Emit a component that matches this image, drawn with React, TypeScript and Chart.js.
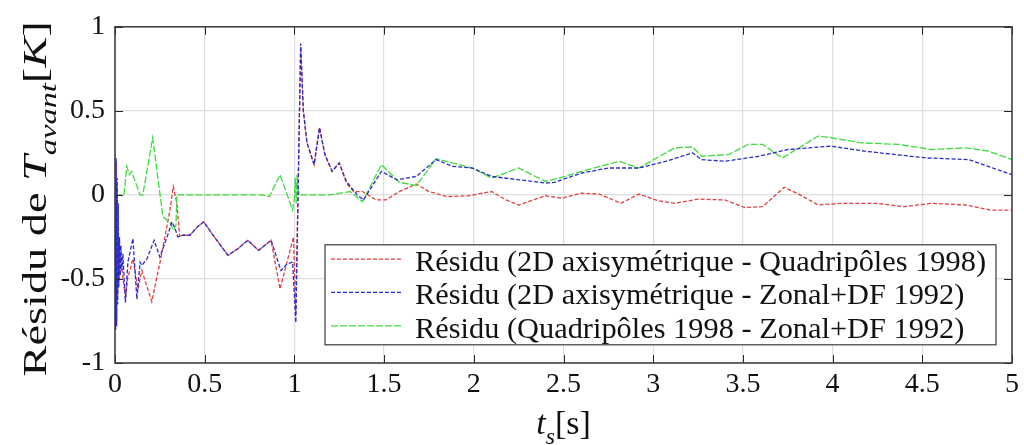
import React, { useEffect, useRef } from "react";
import { Chart, registerables } from "chart.js";

Chart.register(...registerables);

// ---- axis ranges / ticks ----
const X_MIN = 0;
const X_MAX = 5;
const X_STEP = 0.5;
const Y_MIN = -1;
const Y_MAX = 1;
const Y_STEP = 0.5;

// ---- series: Résidu (2D axisymétrique - Quadripôles 1998) ----
const redX = [
  0.0, 0.003, 0.006, 0.009, 0.012, 0.015, 0.02, 0.025, 0.03, 0.04, 0.05, 0.06, 0.07, 0.1, 0.128,
  0.15, 0.205, 0.255, 0.305, 0.325, 0.345, 0.36, 0.38, 0.417, 0.46, 0.495, 0.54, 0.63, 0.685,
  0.74, 0.8, 0.87, 0.92, 0.995, 1.008, 1.035, 1.05, 1.07, 1.11, 1.14, 1.17, 1.21, 1.25, 1.29,
  1.33, 1.38, 1.455, 1.51, 1.585, 1.68, 1.75, 1.85, 1.97, 2.1, 2.18, 2.25, 2.4, 2.49, 2.6, 2.7,
  2.82, 2.92, 3.03, 3.12, 3.25, 3.4, 3.51, 3.61, 3.73, 3.81, 3.92, 4.05, 4.24, 4.4, 4.55, 4.74,
  4.88, 5.0,
];
const redY = [
  -0.05, -0.8, 0.2, -0.75, 0.05, -0.6, -0.3, -0.5, -0.35, -0.45, -0.55, -0.6, -0.5, -0.38, -0.56,
  -0.45, -0.635, -0.38, -0.1, 0.05, -0.05, -0.245, -0.24, -0.24, -0.19, -0.16, -0.23, -0.36, -0.32,
  -0.27, -0.33, -0.27, -0.56, -0.25, -0.7, 0.88, 0.5, 0.31, 0.18, 0.4, 0.24, 0.14, 0.19, 0.07,
  0.02, 0.02, -0.03, -0.03, 0.02, 0.065, 0.02, -0.01, -0.005, 0.02, -0.03, -0.06, -0.005, -0.02, 0.01, 0.005,
  -0.05, 0.005, -0.035, -0.05, -0.025, -0.03, -0.075, -0.07, 0.045, 0.005, -0.06, -0.05, -0.05, -0.07, -0.05, -0.06,
  -0.09, -0.09,
];

// ---- series: Résidu (2D axisymétrique - Zonal+DF 1992) ----
const blueX = [
  0.0, 0.003, 0.006, 0.009, 0.012, 0.015, 0.018, 0.021, 0.025, 0.029, 0.033, 0.038, 0.044, 0.05,
  0.058, 0.072, 0.1, 0.122, 0.14, 0.15, 0.178, 0.218, 0.25, 0.28, 0.3, 0.317, 0.335, 0.35, 0.38,
  0.417, 0.46, 0.495, 0.54, 0.63, 0.685, 0.74, 0.8, 0.87, 0.925, 0.96, 0.99, 1.008, 1.035, 1.05,
  1.07, 1.11, 1.14, 1.17, 1.21, 1.25, 1.29, 1.35, 1.385, 1.485, 1.57, 1.68, 1.79, 1.88, 1.99,
  2.1, 2.25, 2.4, 2.45, 2.6, 2.75, 2.92, 3.07, 3.22, 3.27, 3.4, 3.59, 3.75, 3.99, 4.18, 4.52,
  4.76, 5.0,
];
const blueY = [
  -0.05, -0.8, 0.22, -0.78, 0.1, -0.65, -0.05, -0.55, -0.25, -0.48, -0.3, -0.45, -0.35, -0.48,
  -0.64, -0.4, -0.26, -0.62, -0.4, -0.42, -0.38, -0.27, -0.37, -0.28, -0.22, -0.16, -0.2, -0.25, -0.24,
  -0.24, -0.19, -0.16, -0.23, -0.36, -0.32, -0.27, -0.33, -0.27, -0.45, -0.41, -0.4, -0.76, 0.9, 0.5,
  0.31, 0.18, 0.4, 0.24, 0.14, 0.19, 0.08, 0.0, -0.03, 0.14, 0.09, 0.11, 0.21, 0.17, 0.16,
  0.11, 0.09, 0.07, 0.075, 0.13, 0.16, 0.16, 0.2, 0.25, 0.21, 0.2, 0.23, 0.27, 0.29, 0.26, 0.22,
  0.21, 0.12,
];

// ---- series: Résidu (Quadripôles 1998 - Zonal+DF 1992) ----
const greenX = [
  0.0, 0.05, 0.066, 0.08, 0.092, 0.14, 0.155, 0.21, 0.267, 0.29, 0.305, 0.325, 0.34, 0.345,
  0.82, 0.86, 0.92, 0.99, 1.0, 1.005, 1.01, 1.015, 1.02, 1.03, 1.2, 1.31, 1.38, 1.485, 1.585,
  1.68, 1.79, 1.99, 2.1, 2.2, 2.25, 2.4, 2.51, 2.6, 2.81, 2.92, 3.12, 3.22, 3.27, 3.42, 3.53,
  3.61, 3.72, 3.92, 3.99, 4.16, 4.37, 4.55, 4.74, 4.87, 5.0,
];
const greenY = [
  0.0, 0.0, 0.17, 0.12, 0.14, 0.0, 0.0, 0.34, -0.13, -0.15, -0.16, -0.21, -0.18, 0.0,
  0.0, -0.01, 0.12, -0.09, -0.02, 0.1, -0.05, 0.12, 0.03, 0.0, 0.0, 0.02, -0.04, 0.18, 0.075,
  0.055, 0.215, 0.16, 0.1, 0.14, 0.16, 0.08, 0.11, 0.14, 0.2, 0.16, 0.28, 0.285, 0.23, 0.24, 0.3,
  0.3, 0.22, 0.35, 0.34, 0.31, 0.3, 0.27, 0.28, 0.26, 0.21,
];

const SERIES_LABELS = [
  "Résidu (2D axisymétrique - Quadripôles 1998)",
  "Résidu (2D axisymétrique - Zonal+DF 1992)",
  "Résidu (Quadripôles 1998 - Zonal+DF 1992)",
];
const SERIES_COLORS = ["#e3403f", "#2b2bcc", "#3fdc3f"];
const SERIES_DASH = [
  [4, 2],
  [4, 2],
  [7, 2],
];

const SERIF = '"Liberation Serif", "Times New Roman", serif';

type Seg = { text: string; italic?: boolean; sub?: boolean };

function drawRich(
  ctx: CanvasRenderingContext2D,
  segs: Seg[],
  size: number,
  cx: number,
  baseline: number,
  targetWidth?: number
) {
  const parts = segs.map((s) => {
    const fs = s.sub ? size * 0.7 : size;
    const font = `${s.italic ? "italic " : ""}${fs}px ${SERIF}`;
    ctx.font = font;
    return { ...s, font, w: ctx.measureText(s.text).width, dy: s.sub ? size * 0.28 : 0 };
  });
  const total = parts.reduce((a, p) => a + p.w, 0);
  const sx = targetWidth ? targetWidth / total : 1;
  ctx.save();
  ctx.translate(cx, baseline);
  ctx.scale(sx, 1);
  let x = -total / 2;
  ctx.textAlign = "left";
  ctx.textBaseline = "alphabetic";
  for (const p of parts) {
    ctx.font = p.font;
    ctx.fillText(p.text, x, p.dy);
    x += p.w;
  }
  ctx.restore();
}

const framePlugin = {
  id: "matlabFrame",
  afterDatasetsDraw(chart: any) {
    const { ctx, chartArea: a, scales } = chart;
    const xs = scales.x;
    const ys = scales.y;
    ctx.save();
    // inward ticks
    ctx.strokeStyle = "#262626";
    ctx.lineWidth = 1;
    ctx.setLineDash([]);
    ctx.beginPath();
    for (const t of xs.ticks) {
      const px = Math.round(xs.getPixelForValue(t.value)) + 0.5;
      ctx.moveTo(px, a.bottom);
      ctx.lineTo(px, a.bottom - 8);
      ctx.moveTo(px, a.top);
      ctx.lineTo(px, a.top + 8);
    }
    for (const t of ys.ticks) {
      const py = Math.round(ys.getPixelForValue(t.value)) + 0.5;
      ctx.moveTo(a.left, py);
      ctx.lineTo(a.left + 8, py);
      ctx.moveTo(a.right, py);
      ctx.lineTo(a.right - 8, py);
    }
    ctx.stroke();
    // box
    ctx.strokeStyle = "#3a3a3a";
    ctx.lineWidth = 1.5;
    ctx.strokeRect(a.left, a.top, a.right - a.left, a.bottom - a.top);

    // legend
    const L = a.left + 210;
    const T = a.top + 218;
    const R = a.right - 16;
    const B = a.top + 318;
    ctx.fillStyle = "#ffffff";
    ctx.fillRect(L, T, R - L, B - T);
    ctx.strokeStyle = "#3a3a3a";
    ctx.lineWidth = 1.2;
    ctx.strokeRect(L, T, R - L, B - T);
    const rowH = (B - T) / 3;
    const textW = R - L - 100;
    const fs = 29;
    ctx.font = `${fs}px ${SERIF}`;
    const w0 = ctx.measureText(SERIES_LABELS[0]).width;
    const sx = textW / w0;
    SERIES_LABELS.forEach((lab, i) => {
      const cy = T + rowH * (i + 0.52);
      ctx.strokeStyle = SERIES_COLORS[i];
      ctx.lineWidth = 1.3;
      ctx.setLineDash(SERIES_DASH[i]);
      ctx.beginPath();
      ctx.moveTo(L + 6, cy - 3);
      ctx.lineTo(L + 78, cy - 3);
      ctx.stroke();
      ctx.setLineDash([]);
      ctx.save();
      ctx.translate(L + 90, cy + 9);
      ctx.scale(sx, 1);
      ctx.fillStyle = "#111";
      ctx.font = `${fs}px ${SERIF}`;
      ctx.textAlign = "left";
      ctx.textBaseline = "alphabetic";
      ctx.fillText(lab, 0, 0);
      ctx.restore();
    });
    ctx.restore();
  },
  afterDraw(chart: any) {
    const { ctx, chartArea: a } = chart;
    ctx.save();
    ctx.fillStyle = "#111";
    // x title
    drawRich(
      ctx,
      [{ text: "t", italic: true }, { text: "s", italic: true, sub: true }, { text: "[s]" }],
      34,
      (a.left + a.right) / 2,
      434
    );
    // y title
    ctx.translate(46, (a.top + a.bottom) / 2 + 4);
    ctx.rotate(-Math.PI / 2);
    drawRich(
      ctx,
      [
        { text: "Résidu de " },
        { text: "T", italic: true },
        { text: "avant", italic: true, sub: true },
        { text: "[" },
        { text: "K", italic: true },
        { text: "]" },
      ],
      34,
      0,
      0,
      355
    );
    ctx.restore();
  },
};

function pts(xs: number[], ys: number[]) {
  return xs.map((x, i) => ({ x, y: ys[i] }));
}

export default function App() {
  const ref = useRef<HTMLCanvasElement | null>(null);
  useEffect(() => {
    if (!ref.current) return;
    const series = [pts(redX, redY), pts(blueX, blueY), pts(greenX, greenY)];
    const orders = [3, 1, 2];
    const chart = new Chart(ref.current, {
      type: "line",
      data: {
        datasets: series.map((d, i) => ({
          label: SERIES_LABELS[i],
          data: d,
          borderColor: SERIES_COLORS[i],
          backgroundColor: SERIES_COLORS[i],
          borderWidth: 1.3,
          borderDash: SERIES_DASH[i],
          pointRadius: 0,
          tension: 0,
          fill: false,
          order: orders[i],
        })),
      },
      options: {
        responsive: false,
        maintainAspectRatio: false,
        animation: false,
        events: [],
        layout: { padding: { left: 0, top: 19, right: 10, bottom: 0 } },
        plugins: { legend: { display: false }, tooltip: { enabled: false } },
        scales: {
          x: {
            type: "linear",
            min: X_MIN,
            max: X_MAX,
            ticks: {
              stepSize: X_STEP,
              color: "#111",
              font: { family: SERIF, size: 28 },
              padding: 5,
              maxRotation: 0,
              callback: (v: any) => String(v),
            },
            grid: { color: "#dedede", lineWidth: 1.2, drawTicks: false },
            border: { display: false },
            afterFit: (s: any) => {
              s.height = 82;
            },
          },
          y: {
            type: "linear",
            min: Y_MIN,
            max: Y_MAX,
            ticks: {
              stepSize: Y_STEP,
              color: "#111",
              font: { family: SERIF, size: 28 },
              padding: 10,
              callback: (v: any) => String(v),
            },
            grid: { color: "#dedede", lineWidth: 1.2, drawTicks: false },
            border: { display: false },
            afterFit: (s: any) => {
              s.width = 115;
            },
          },
        },
      },
      plugins: [framePlugin],
    });
    return () => chart.destroy();
  }, []);
  return (
    <div style={{ position: "absolute", left: 0, top: 0, width: 1024, height: 445, background: "#fff" }}>
      <canvas ref={ref} width={1024} height={445} style={{ display: "block" }} />
    </div>
  );
}
